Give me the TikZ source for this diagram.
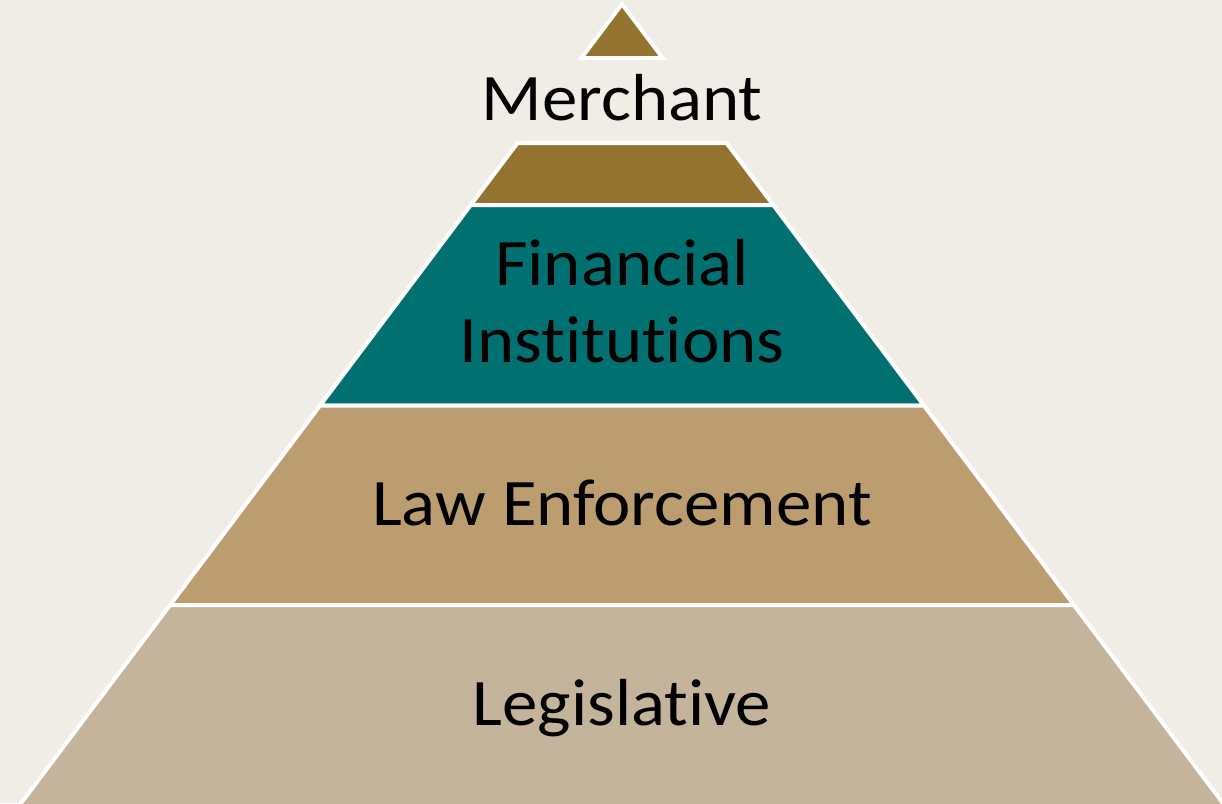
\documentclass[tikz,border=0pt]{standalone}
\usepackage{fontspec}
\setmainfont{Carlito}[Ligatures={NoCommon,NoContextual}]
\usepackage{graphicx}
\definecolor{bgc}{RGB}{240,237,230}
\definecolor{goldc}{RGB}{148,115,48}
\definecolor{tealc}{RGB}{0,112,112}
\definecolor{lawc}{RGB}{188,157,112}
\definecolor{legc}{RGB}{196,180,155}
\begin{document}
\begin{tikzpicture}[x=1pt,y=-1pt,
  band/.style={draw=white,line width=4pt,line join=miter},
  lbl/.style={anchor=base,text=black,inner sep=0pt,font=\fontsize{66.5}{77}\selectfont}]
\fill[bgc] (0,0) rectangle (1222,803);
\useasboundingbox (0,0) rectangle (1222,803);
\begin{scope}
\clip (0,0) rectangle (1222,803);
% top triangle
\filldraw[band,fill=goldc] (622,4) -- (662.6,58) -- (581.4,58) -- cycle;
% trapezoid under Merchant
\filldraw[band,fill=goldc] (517.5,143) -- (726.5,143) -- (773.2,205) -- (470.8,205) -- cycle;
% Financial Institutions
\filldraw[band,fill=tealc] (470.8,205) -- (773.2,205) -- (923.9,405.5) -- (320.1,405.5) -- cycle;
% Law Enforcement
\filldraw[band,fill=lawc] (320.1,405.5) -- (923.9,405.5) -- (1073.9,605) -- (170.1,605) -- cycle;
% Legislative
\filldraw[band,fill=legc] (170.1,605) -- (1073.9,605) -- (1228.1,810) -- (15.9,810) -- cycle;
\end{scope}
\node[lbl] (merchant) at (622,120) {\scalebox{1.065}[1]{Merchant}};
\node[lbl] (fin) at (622,285) {\scalebox{1.065}[1]{\begin{tabular}[t]{@{}c@{}}Financial\\Institutions\end{tabular}}};
\node[lbl] (law) at (622,525) {\scalebox{1.065}[1]{Law Enforcement}};
\node[lbl] (leg) at (622,725) {\scalebox{1.065}[1]{Legislative}};
\end{tikzpicture}
\end{document}
